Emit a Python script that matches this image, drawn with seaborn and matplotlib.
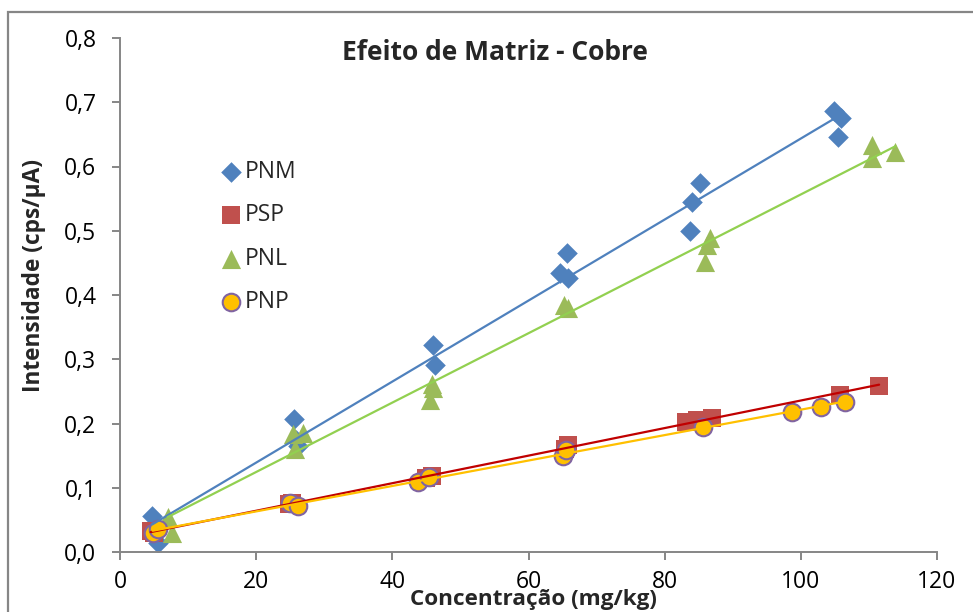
import matplotlib
matplotlib.use("Agg")
import matplotlib.pyplot as plt
from matplotlib.patches import Rectangle
from matplotlib.ticker import FuncFormatter
import seaborn as sns
import pandas as pd

# concentration (mg/kg) and intensity (cps/uA)
pnm_x = [4.7, 5.0, 5.6, 25.5, 25.8, 26.2, 46.0, 46.2, 64.6, 65.6, 65.8, 83.7, 84.0, 85.2, 104.9, 105.4, 105.9]
pnm_y = [0.056, 0.030, 0.014, 0.207, 0.175, 0.165, 0.322, 0.291, 0.434, 0.465, 0.426, 0.500, 0.545, 0.574, 0.686, 0.646, 0.676]

psp_x = [4.5, 5.0, 24.8, 25.3, 45.0, 45.8, 65.3, 65.8, 83.1, 84.8, 86.9, 105.7, 111.5]
psp_y = [0.033, 0.030, 0.074, 0.076, 0.115, 0.118, 0.160, 0.166, 0.203, 0.206, 0.209, 0.245, 0.258]

pnl_x = [7.0, 7.6, 25.4, 26.9, 25.7, 45.8, 46.0, 45.6, 65.2, 65.8, 85.9, 86.6, 86.2, 110.4, 110.4, 113.9]
pnl_y = [0.054, 0.030, 0.183, 0.185, 0.160, 0.262, 0.255, 0.237, 0.385, 0.380, 0.452, 0.489, 0.478, 0.633, 0.613, 0.622]

pnp_x = [4.8, 5.6, 25.0, 26.1, 43.8, 45.4, 65.0, 65.5, 85.6, 98.7, 102.9, 106.5]
pnp_y = [0.030, 0.036, 0.076, 0.072, 0.109, 0.116, 0.150, 0.158, 0.195, 0.218, 0.226, 0.233]

series = [
    # name, x, y, marker, size, face, edge, trendline colour
    ("PNM", pnm_x, pnm_y, "D", 110, "#4F81BD", "#4F81BD", "#4F81BD"),
    ("PSP", psp_x, psp_y, "s", 150, "#C0504D", "#C0504D", "#C00000"),
    ("PNL", pnl_x, pnl_y, "^", 190, "#9BBB59", "#9BBB59", "#92D050"),
    ("PNP", pnp_x, pnp_y, "o", 160, "#FFC000", "#8064A2", "#FFC000"),
]

sns.set_style("ticks")
plt.rcParams["font.family"] = ["Open Sans", "DejaVu Sans"]

fig = plt.figure(figsize=(9.73, 6.12), dpi=100)
ax = fig.add_axes([120 / 973, 1 - 552 / 612, 817 / 973, 514 / 612])

for name, xs, ys, mk, sz, fc, ec, lc in series:
    df = pd.DataFrame({"x": xs, "y": ys})
    sns.scatterplot(data=df, x="x", y="y", ax=ax, marker=mk, s=sz,
                    color=fc, edgecolor=ec, linewidth=1.5 if name == "PNP" else 0,
                    label=name, zorder=2)
    sns.regplot(data=df, x="x", y="y", ax=ax, scatter=False, ci=None,
                line_kws={"color": lc, "linewidth": 1.6, "zorder": 3})

ax.set_xlim(0, 120)
ax.set_ylim(0, 0.8)
ax.set_xticks(range(0, 121, 20))
ax.set_yticks([i / 10 for i in range(9)])
ax.yaxis.set_major_formatter(FuncFormatter(lambda v, p: f"{v:.1f}".replace(".", ",")))
ax.set_xlabel("")
ax.set_ylabel("")

grey = "#868686"
for side in ["top", "right"]:
    ax.spines[side].set_visible(False)
for side in ["left", "bottom"]:
    ax.spines[side].set_color(grey)
    ax.spines[side].set_linewidth(1.4)
ax.tick_params(axis="both", colors=grey, labelcolor="black", labelsize=16.5,
               length=6, width=1.4, direction="out")
ax.tick_params(axis="y", pad=11)
ax.tick_params(axis="x", pad=7)

leg = ax.legend(loc="upper left", bbox_to_anchor=(0.1224, 0.763), frameon=False,
                fontsize=16.5, handlelength=1.0, handletextpad=0.1,
                borderpad=0, borderaxespad=0, labelspacing=0.85)

fig.text(495 / 973, 1 - 52 / 612, "Efeito de Matriz - Cobre", ha="center", va="center",
         fontsize=19, fontweight="bold")
fig.text(533 / 973, 1 - 600 / 612, "Concentração (mg/kg)", ha="center", va="center",
         fontsize=16.2, fontweight="bold")
fig.text(34 / 973, 1 - 275 / 612, "Intensidade (cps/µA)", ha="center", va="center",
         rotation=90, fontsize=16.3, fontweight="bold")

# chart area border (right and bottom edges fall outside the picture)
fig.patches.append(Rectangle((7.5 / 973, -0.1), 1.2, 1.1 - 11.5 / 612,
                             transform=fig.transFigure, fill=False,
                             edgecolor=grey, linewidth=1.6))

fig.savefig("out.png", dpi=100)
